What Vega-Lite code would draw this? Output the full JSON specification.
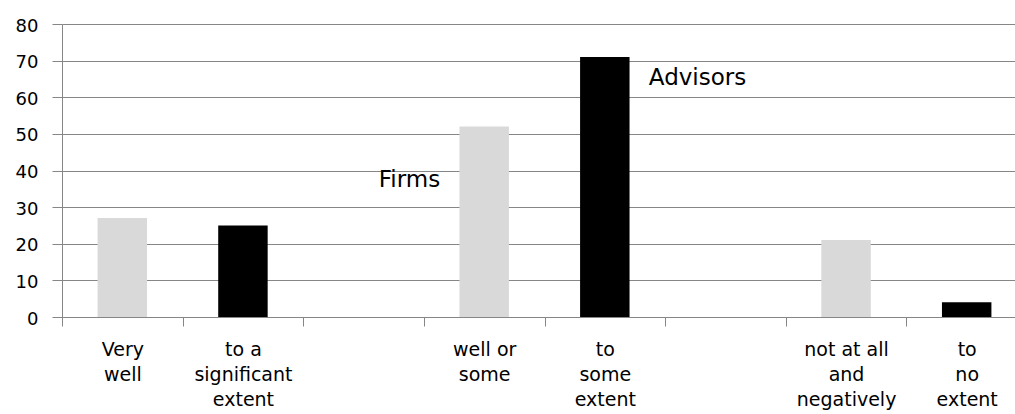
{
  "$schema": "https://vega.github.io/schema/vega-lite/v6.json",
  "width": 953,
  "height": 293,
  "autosize": {"type": "none"},
  "padding": {"left": 62, "top": 24, "right": 0, "bottom": 97},
  "background": "white",
  "config": {
    "view": {"stroke": null},
    "font": "DejaVu Sans"
  },
  "datasets": {
    "bars": [
      {"cat": "Very|well", "group": "Firms", "value": 27},
      {"cat": "to a|significant|extent", "group": "Advisors", "value": 25},
      {"cat": "well or|some", "group": "Firms", "value": 52},
      {"cat": "to|some|extent", "group": "Advisors", "value": 71},
      {"cat": "not at all|and|negatively", "group": "Firms", "value": 21},
      {"cat": "to|no|extent", "group": "Advisors", "value": 4}
    ],
    "notes": [
      {"cat": "well or|some", "label": "Firms", "value": 35.5, "side": "right"},
      {"cat": "to|some|extent", "label": "Advisors", "value": 63.3, "side": "left"}
    ]
  },
  "encoding": {
    "x": {
      "field": "cat",
      "type": "nominal",
      "sort": null,
      "scale": {
        "domain": ["Very|well", "to a|significant|extent", " ", "well or|some", "to|some|extent", "  ", "not at all|and|negatively", "to|no|extent"],
        "range": [0, 965],
        "paddingInner": 0,
        "paddingOuter": 0
      },
      "axis": {
        "title": null,
        "labelAngle": 0,
        "labelExpr": "datum.value ? split(datum.value, '|') : ''",
        "labelFontSize": 19,
        "labelLineHeight": 25,
        "labelColor": "#000000",
        "labelPadding": 14,
        "tickBand": "extent",
        "tickSize": 9,
        "tickColor": "#868686",
        "domainColor": "#868686",
        "grid": false,
        "labelBaseline": "top"
      }
    },
    "y": {
      "field": "value",
      "type": "quantitative",
      "scale": {"domain": [0, 80], "nice": false},
      "axis": {
        "title": null,
        "values": [0, 10, 20, 30, 40, 50, 60, 70, 80],
        "labelOverlap": false,
        "labelFontSize": 18,
        "labelColor": "#000000",
        "labelPadding": 14,
        "labelOffset": 2,
        "tickSize": 10,
        "tickColor": "#868686",
        "domainColor": "#868686",
        "gridColor": "#868686",
        "grid": true
      }
    }
  },
  "layer": [
    {
      "data": {"name": "bars"},
      "mark": {"type": "bar", "width": {"band": 0.41}},
      "encoding": {
        "color": {
          "field": "group",
          "type": "nominal",
          "scale": {"domain": ["Firms", "Advisors"], "range": ["#d9d9d9", "#000000"]},
          "legend": null
        }
      }
    },
    {
      "data": {"name": "notes"},
      "transform": [{"filter": "datum.side == 'right'"}],
      "mark": {"type": "text", "align": "right", "baseline": "alphabetic", "dx": -44, "fontSize": 23, "color": "#000000"},
      "encoding": {
        "text": {"field": "label"}
      }
    },
    {
      "data": {"name": "notes"},
      "transform": [{"filter": "datum.side == 'left'"}],
      "mark": {"type": "text", "align": "left", "baseline": "alphabetic", "dx": 44, "fontSize": 23, "color": "#000000"},
      "encoding": {
        "text": {"field": "label"}
      }
    }
  ]
}
